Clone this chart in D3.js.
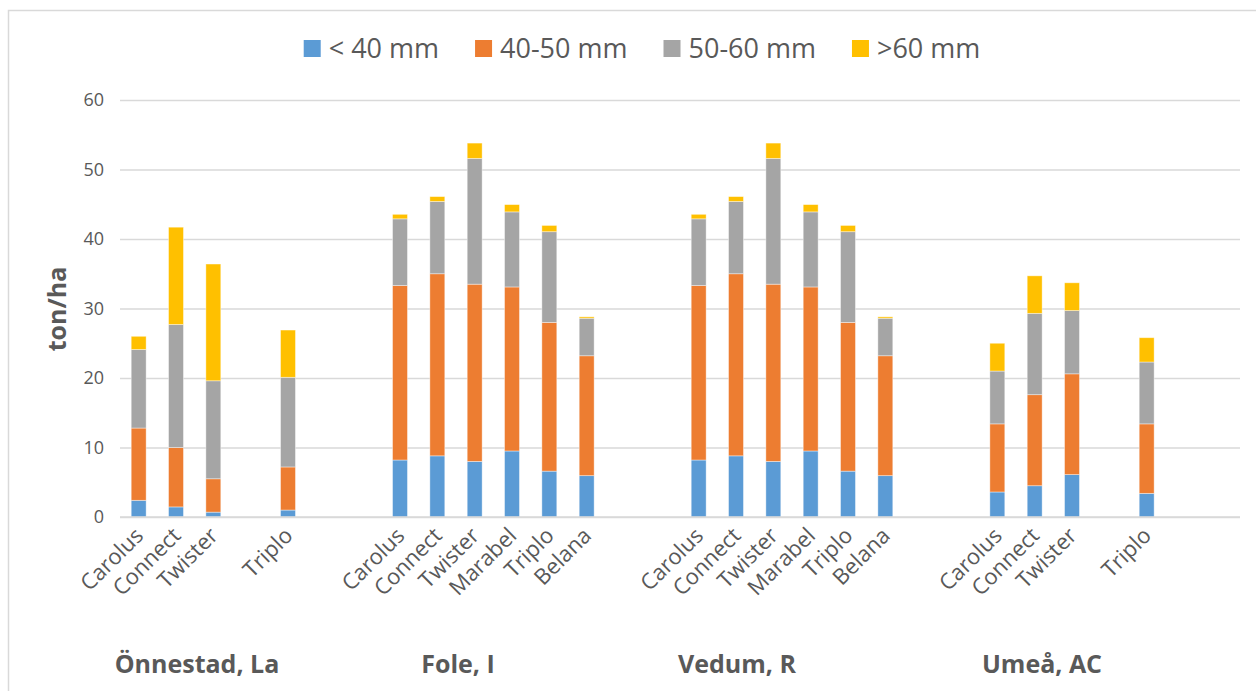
<!DOCTYPE html>
<html>
<head>
<meta charset="utf-8">
<script src="https://cdn.jsdelivr.net/npm/d3@7"></script>
<style>
  html, body { margin: 0; padding: 0; background: #ffffff; }
  svg { display: block; font-family: "Open Sans", "Noto Sans", sans-serif; }
</style>
</head>
<body>
<svg id="chart" width="1256" height="691"></svg>
<script>
// ---- Data (one slot per category position; "" = empty slot) ----
const slotLabels = [
  "Carolus","Connect","Twister","","Triplo","","",
  "Carolus","Connect","Twister","Marabel","Triplo","Belana","","",
  "Carolus","Connect","Twister","Marabel","Triplo","Belana","","",
  "Carolus","Connect","Twister","","Triplo","",""
];
const seriesNames = ["< 40 mm", "40-50 mm", "50-60 mm", ">60 mm"];
const lt40   = [2.4,1.45,0.7,0,1.0,0,0,  8.2,8.8,8.0,9.5,6.6,5.95,0,0,  8.2,8.8,8.0,9.5,6.6,5.95,0,0,  3.6,4.5,6.1,0,3.4,0,0];
const s40_50 = [10.4,8.55,4.8,0,6.2,0,0, 25.1,26.2,25.5,23.6,21.4,17.25,0,0, 25.1,26.2,25.5,23.6,21.4,17.25,0,0, 9.8,13.1,14.5,0,10.0,0,0];
const s50_60 = [11.3,17.7,14.1,0,12.9,0,0, 9.6,10.4,18.1,10.8,13.05,5.4,0,0, 9.6,10.4,18.1,10.8,13.05,5.4,0,0, 7.6,11.7,9.1,0,8.9,0,0];
const gt60   = [1.9,14.0,16.8,0,6.8,0,0, 0.65,0.7,2.2,1.05,0.9,0.2,0,0, 0.65,0.7,2.2,1.05,0.9,0.2,0,0, 4.0,5.4,4.0,0,3.5,0,0];
const groupNames = ["Önnestad, La", "Fole, I", "Vedum, R", "Umeå, AC"];
const yTicks = [0, 10, 20, 30, 40, 50, 60];
const yTitle = "ton/ha";

// ---- Layout / style ----
const colors = ["#5b9bd5", "#ed7d31", "#a5a5a5", "#ffc000"];
const textColor = "#595959";
const gridColor = "#d9d9d9";
const plot = { left: 120, right: 1240, top: 100, bottom: 517 };
const groupLabelX = [197, 458, 737, 1042];

const svg = d3.select("#chart");

// chart frame
svg.append("rect")
  .attr("x", 8.5).attr("y", 10.5)
  .attr("width", 1260).attr("height", 700)
  .attr("fill", "#ffffff")
  .attr("stroke", gridColor).attr("stroke-width", 1.5);

const rows = slotLabels.map((lab, i) => ({
  idx: i, label: lab,
  [seriesNames[0]]: lt40[i],
  [seriesNames[1]]: s40_50[i],
  [seriesNames[2]]: s50_60[i],
  [seriesNames[3]]: gt60[i]
}));

const x = d3.scaleBand()
  .domain(rows.map(d => d.idx))
  .range([plot.left, plot.right])
  .paddingInner(0.6)
  .paddingOuter(0.3);

const y = d3.scaleLinear()
  .domain([0, 60])
  .range([plot.bottom, plot.top]);

// gridlines
const yAxis = d3.axisLeft(y).tickValues(yTicks).tickSize(-(plot.right - plot.left)).tickPadding(16);
const gy = svg.append("g")
  .attr("transform", `translate(${plot.left},0)`)
  .call(yAxis);
gy.select(".domain").remove();
gy.selectAll(".tick line").attr("stroke", gridColor).attr("stroke-width", 1.5);
gy.selectAll(".tick text")
  .attr("fill", textColor)
  .style("font-size", "18px")
  .style("font-family", "'Open Sans', sans-serif");

// stacked bars
const stack = d3.stack().keys(seriesNames);
const stacked = stack(rows);

svg.append("g").selectAll("g")
  .data(stacked)
  .join("g")
  .attr("fill", (d, i) => colors[i])
  .selectAll("rect")
  .data(d => d.filter(s => s[1] - s[0] > 0))
  .join("rect")
  .attr("x", d => x(d.data.idx))
  .attr("width", x.bandwidth())
  .attr("y", d => y(d[1]))
  .attr("height", d => y(d[0]) - y(d[1]))
  .attr("stroke", "#ffffff")
  .attr("stroke-opacity", 0.5)
  .attr("stroke-width", 0.8);

// x axis baseline
svg.append("line")
  .attr("x1", plot.left).attr("x2", plot.right)
  .attr("y1", y(0)).attr("y2", y(0))
  .attr("stroke", gridColor).attr("stroke-width", 1.5);

// x category labels
const xAxis = d3.axisBottom(x).tickSize(0).tickFormat(i => slotLabels[i]);
const gx = svg.append("g")
  .attr("transform", `translate(0,${plot.bottom})`)
  .call(xAxis);
gx.select(".domain").remove();
gx.selectAll(".tick text")
  .attr("fill", textColor)
  .style("font-size", "22px")
  .style("font-family", "'Open Sans', sans-serif")
  .attr("text-anchor", "end")
  .attr("dy", null)
  .attr("y", 0)
  .attr("transform", "translate(6,20) rotate(-45)");

// group labels
svg.append("g").selectAll("text")
  .data(groupNames)
  .join("text")
  .attr("x", (d, i) => groupLabelX[i])
  .attr("y", 673)
  .attr("text-anchor", "middle")
  .attr("fill", textColor)
  .style("font-size", "25px")
  .style("font-weight", "bold")
  .text(d => d);

// y axis title
svg.append("text")
  .attr("transform", `translate(66,309) rotate(-90)`)
  .attr("text-anchor", "middle")
  .attr("fill", textColor)
  .style("font-size", "25px")
  .style("font-weight", "bold")
  .text(yTitle);

// legend
const legend = svg.append("g");
const items = legend.selectAll("g")
  .data(seriesNames)
  .join("g");
items.append("rect")
  .attr("width", 17).attr("height", 17)
  .attr("y", 40)
  .attr("fill", (d, i) => colors[i]);
items.append("text")
  .attr("x", 25)
  .attr("y", 58)
  .attr("fill", textColor)
  .style("font-size", "27px")
  .text(d => d);
const widths = [];
items.each(function () {
  widths.push(25 + this.querySelector("text").getComputedTextLength());
});
const gap = 36;
const total = widths.reduce((a, b) => a + b, 0) + gap * (widths.length - 1);
let start = 642 - total / 2;
items.attr("transform", (d, i) => {
  const t = `translate(${start},0)`;
  start += widths[i] + gap;
  return t;
});
</script>
</body>
</html>
